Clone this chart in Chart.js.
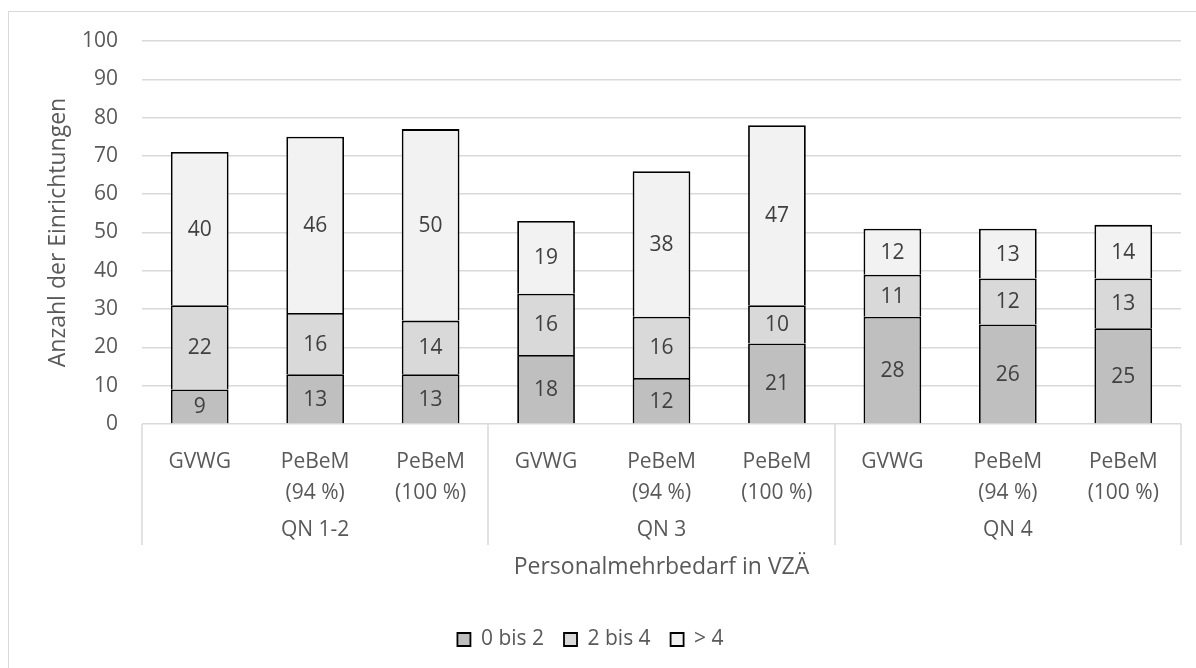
<!DOCTYPE html>
<html>
<head>
<meta charset="utf-8">
<script src="https://cdn.jsdelivr.net/npm/chart.js@4/dist/chart.umd.min.js"></script>
<style>
  html, body { margin: 0; padding: 0; background: #fff; overflow: hidden; }
  #wrap { position: relative; width: 1196px; height: 668px; }
  #frame { position: absolute; left: 8px; top: 11px; width: 1210px; height: 680px; border: 1px solid #d9d9d9; box-sizing: border-box; }
  #chart { position: absolute; left: 0; top: 0; }
</style>
</head>
<body>
<div id="wrap">
  <div id="frame"></div>
  <canvas id="chart" width="1196" height="668"></canvas>
</div>
<script>
const categories = [
  "GVWG", ["PeBeM", "(94 %)"], ["PeBeM", "(100 %)"],
  "GVWG", ["PeBeM", "(94 %)"], ["PeBeM", "(100 %)"],
  "GVWG", ["PeBeM", "(94 %)"], ["PeBeM", "(100 %)"]
];
const groups = ["QN 1-2", "QN 3", "QN 4"];
const seriesNames = ["0 bis 2", "2 bis 4", "> 4"];
const low = [9, 13, 13, 18, 12, 21, 28, 26, 25];
const mid = [22, 16, 14, 16, 16, 10, 11, 12, 13];
const high = [40, 46, 50, 19, 38, 47, 12, 13, 14];

const textColor = "#595959";
const font = "'Open Sans', sans-serif";

// labels inside the bar segments
const valueLabels = {
  id: "valueLabels",
  afterDatasetsDraw(chart) {
    const ctx = chart.ctx;
    ctx.save();
    ctx.font = "21px " + font;
    ctx.fillStyle = "#404040";
    ctx.textAlign = "center";
    ctx.textBaseline = "middle";
    chart.data.datasets.forEach((ds, i) => {
      chart.getDatasetMeta(i).data.forEach((bar, j) => {
        const p = bar.getProps(["x", "y", "base"], true);
        ctx.fillText(ds.data[j], p.x, (p.y + p.base) / 2 + 1);
      });
    });
    ctx.restore();
  }
};

// second row of the category axis: group names and divider lines
const groupAxis = {
  id: "groupAxis",
  afterDraw(chart) {
    const ctx = chart.ctx;
    const x = chart.scales.x;
    const top = chart.chartArea.bottom;
    ctx.save();
    ctx.strokeStyle = "#d9d9d9";
    ctx.lineWidth = 1.5;
    for (let g = 0; g <= groups.length; g++) {
      const px = Math.round(x.getPixelForValue(g * 3 - 0.5));
      ctx.beginPath();
      ctx.moveTo(px, top);
      ctx.lineTo(px, top + 121);
      ctx.stroke();
    }
    ctx.font = "21px " + font;
    ctx.fillStyle = textColor;
    ctx.textAlign = "center";
    ctx.textBaseline = "middle";
    groups.forEach((name, g) => {
      const cx = x.getPixelForValue(g * 3 + 1);
      ctx.fillText(name, cx, top + 106);
    });
    ctx.restore();
  }
};

new Chart(document.getElementById("chart"), {
  type: "bar",
  data: {
    labels: categories,
    datasets: [
      { label: seriesNames[0], data: low, backgroundColor: "#bfbfbf" },
      { label: seriesNames[1], data: mid, backgroundColor: "#d9d9d9" },
      { label: seriesNames[2], data: high, backgroundColor: "#f2f2f2" }
    ].map(d => Object.assign(d, {
      borderColor: "#000",
      borderWidth: 1.8,
      barPercentage: 0.5,
      categoryPercentage: 1
    }))
  },
  options: {
    responsive: false,
    animation: false,
    layout: { padding: { top: 41, right: 15, left: 0, bottom: 8 } },
    plugins: {
      tooltip: { enabled: false },
      legend: {
        position: "bottom",
        labels: {
          boxWidth: 13,
          boxHeight: 13,
          padding: 20,
          color: textColor,
          font: { family: font, size: 21 }
        }
      }
    },
    scales: {
      x: {
        stacked: true,
        grid: { display: false },
        border: { display: false },
        ticks: {
          color: textColor,
          padding: 14,
          maxRotation: 0,
          autoSkip: false,
          font: { family: font, size: 21, lineHeight: 1.48 }
        },
        title: {
          display: true,
          text: "Personalmehrbedarf in VZÄ",
          color: textColor,
          font: { family: font, size: 23 },
          padding: { top: 0, bottom: 28 }
        },
        afterFit(scale) { scale.height = 185; }
      },
      y: {
        stacked: true,
        min: 0,
        max: 100,
        grid: { color: "#d9d9d9", lineWidth: 1.5, drawTicks: false },
        border: { display: false },
        ticks: {
          stepSize: 10,
          color: textColor,
          padding: 24,
          font: { family: font, size: 21 }
        },
        title: {
          display: true,
          text: "Anzahl der Einrichtungen",
          color: textColor,
          font: { family: font, size: 23 },
          padding: { top: 45, bottom: 0 }
        },
        afterFit(scale) { scale.width = 142; }
      }
    }
  },
  plugins: [valueLabels, groupAxis]
});
</script>
</body>
</html>
